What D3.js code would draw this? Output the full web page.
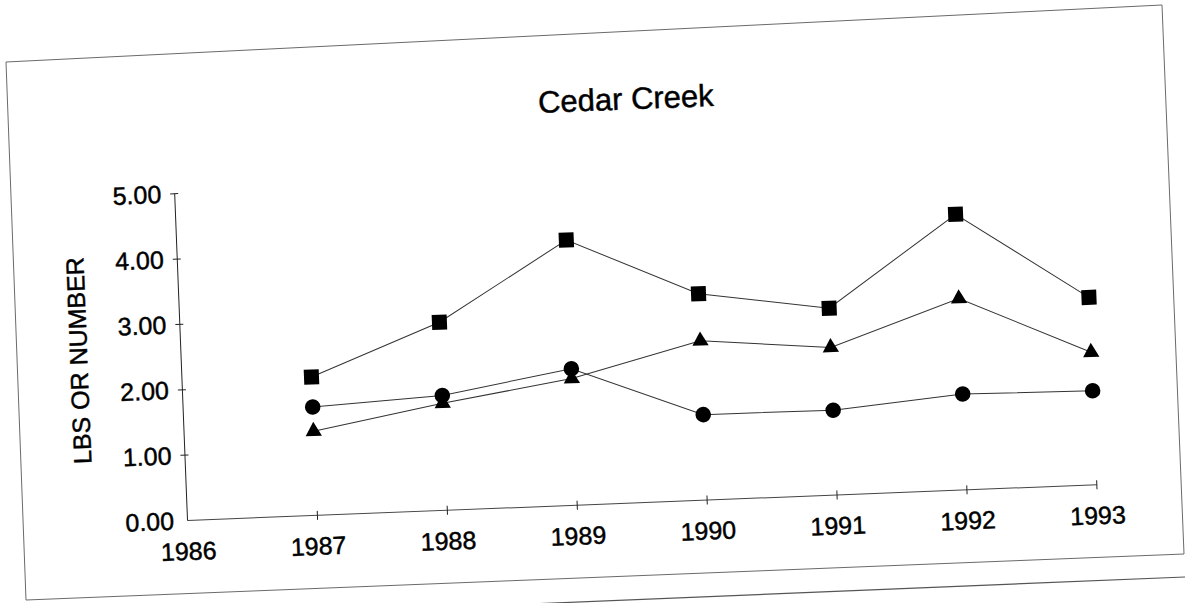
<!DOCTYPE html>
<html>
<head>
<meta charset="utf-8">
<script src="https://cdn.jsdelivr.net/npm/d3@7"></script>
<style>
  html, body { margin: 0; padding: 0; background: #fff; }
  svg { display: block; font-family: 'Liberation Sans', Arial, sans-serif; }
  text { stroke: #000; stroke-width: 0.45px; }
</style>
</head>
<body>
<svg width="1185" height="603"></svg>
<script>
// values
const years = [1987, 1988, 1989, 1990, 1991, 1992, 1993];
const squareValues = [2.11, 2.87, 4.05, 3.15, 2.85, 4.21, 2.86];
const circleValues = [1.65, 1.75, 2.08, 1.30, 1.29, 1.46, 1.43];
const triangleValues = [1.28, 1.63, 1.93, 2.43, 2.25, 2.92, 2.02];
const xTicks = [1986, 1987, 1988, 1989, 1990, 1991, 1992, 1993];
const yTicks = [0, 1, 2, 3, 4, 5];
const title = 'Cedar Creek';
const yTitle = 'LBS OR NUMBER';

// the page was scanned slightly tilted
const origin = [187, 520];
const tilt = -2.25;
const plotW = 910;
const plotH = 327;

const svg = d3.select('svg');
svg.append('rect').attr('width', 1185).attr('height', 603).attr('fill', '#fff').attr('stroke', 'none');

// paper border of the scan
const border = [[6, 62], [1162, 5], [1184, 554], [26, 600]];
svg.append('path')
  .attr('d', d3.line()(border) + 'Z')
  .attr('fill', 'none')
  .attr('stroke', '#6a6a6a')
  .attr('stroke-width', 1);
svg.append('path')
  .attr('d', d3.line()([[530, 604], [1185, 577]]))
  .attr('fill', 'none')
  .attr('stroke', '#555')
  .attr('stroke-width', 1.2);

const g = svg.append('g')
  .attr('transform', `translate(${origin[0]},${origin[1]}) rotate(${tilt})`);

const x = d3.scaleLinear().domain([1986, 1993]).range([0, plotW]);
const y = d3.scaleLinear().domain([0, 5]).range([0, -plotH]);

// x axis
const xAxis = g.append('g')
  .call(d3.axisBottom(x).tickValues(xTicks).tickFormat(d3.format('d')).tickSizeOuter(0));
xAxis.select('.domain').attr('stroke', '#444').attr('stroke-width', 1);
xAxis.selectAll('.tick line')
  .attr('y1', d => d === 1986 ? 0 : -4)
  .attr('y2', d => d === 1986 ? 0 : 5)
  .attr('stroke', '#222');
xAxis.selectAll('.tick text')
  .attr('y', 40).attr('dy', null)
  .attr('font-size', 25)
  .attr('font-family', "'Liberation Sans', Arial, sans-serif")
  .attr('fill', '#000');

// y axis
const yAxis = g.append('g')
  .call(d3.axisLeft(y).tickValues(yTicks).tickFormat(d3.format('.2f')).tickSizeOuter(0));
yAxis.select('.domain').attr('stroke', '#222').attr('stroke-width', 1);
yAxis.selectAll('.tick line')
  .attr('x1', d => d === 0 ? 0 : -4)
  .attr('x2', d => d === 0 ? 0 : 4)
  .attr('stroke', '#222');
yAxis.selectAll('.tick text')
  .attr('x', -13).attr('dy', '0.35em')
  .attr('font-size', 25)
  .attr('font-family', "'Liberation Sans', Arial, sans-serif")
  .attr('fill', '#000');

// titles
g.append('text')
  .attr('x', plotW / 2)
  .attr('y', -393)
  .attr('text-anchor', 'middle')
  .attr('font-size', 31)
  .text(title);

g.append('text')
  .attr('transform', `translate(-102,${-plotH / 2}) rotate(-90)`)
  .attr('text-anchor', 'middle')
  .attr('dy', '0.35em')
  .attr('font-size', 25)
  .text(yTitle);

// series
const series = [
  { values: squareValues, symbol: d3.symbolSquare, size: 225 },
  { values: triangleValues, symbol: d3.symbolTriangle, size: 115 },
  { values: circleValues, symbol: d3.symbolCircle, size: 190 },
];

const line = d3.line()
  .x((d, i) => x(years[i]))
  .y(d => y(d));

for (const s of series) {
  g.append('path')
    .attr('d', line(s.values))
    .attr('fill', 'none')
    .attr('stroke', '#333')
    .attr('stroke-width', 1);
}

for (const s of series) {
  g.append('g').selectAll('path')
    .data(s.values)
    .join('path')
    .attr('transform', (d, i) => `translate(${x(years[i])},${y(d)})`)
    .attr('d', d3.symbol().type(s.symbol).size(s.size))
    .attr('fill', '#000');
}
</script>
</body>
</html>
